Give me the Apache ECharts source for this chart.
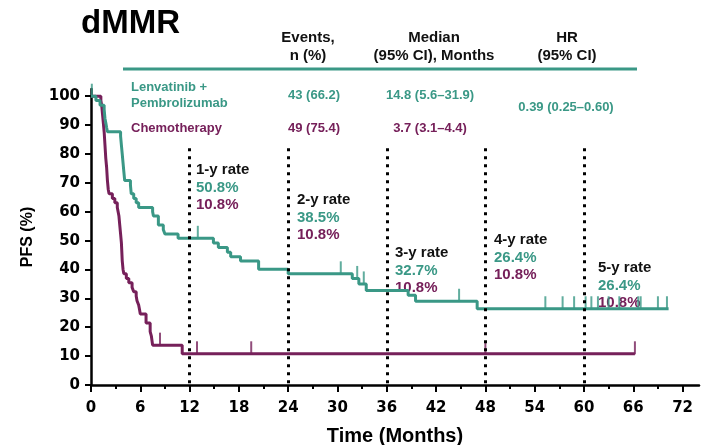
<!DOCTYPE html>
<html>
<head>
<meta charset="utf-8">
<script src="https://cdn.jsdelivr.net/npm/echarts@6/dist/echarts.min.js"></script>
<style>
  html, body { margin: 0; padding: 0; background: #fff; }
  #chart { width: 709px; height: 445px; }
</style>
</head>
<body>
<div id="chart"></div>
<script>
// Kaplan–Meier PFS, dMMR population
const xTickLabels = [0, 6, 12, 18, 24, 30, 36, 42, 48, 54, 60, 66, 72];
const xMinorTicks = [3, 9, 15, 21, 27, 33, 39, 45, 51, 57, 63, 69];
const yTickLabels = [0, 10, 20, 30, 40, 50, 60, 70, 80, 90, 100];

// Lenvatinib + Pembrolizumab: event times (months) and survival (%)
const lenvTimes = [0, 0.6, 1.1, 1.6, 1.7, 1.8, 1.9, 2.0, 3.6, 3.7, 3.8, 3.9, 4.0, 4.1, 4.8, 4.9, 5.2, 5.5, 5.8,
  7.5, 7.6, 8.2, 8.8, 9.0, 10.6, 14.9, 15.5, 16.6, 17.0, 18.2, 20.4, 24.0, 31.8, 32.6, 33.5, 38.6, 39.5, 47.0, 70.3];
const lenvSurv = [100, 98.5, 96.9, 95.4, 92.3, 90.8, 89.2, 87.7, 86.2, 83.1, 80.0, 76.9, 73.8, 70.8, 69.2, 66.2, 64.6, 63.1, 61.5,
  60.0, 58.5, 55.4, 53.8, 52.3, 50.8, 49.2, 47.6, 46.0, 44.4, 42.9, 40.1, 38.5, 36.9, 35.0, 32.7, 31.1, 29.0, 26.4, 26.4];
const lenvCensors = [0.1, 13.0, 30.4, 32.4, 33.2, 44.8, 55.3, 57.4, 58.8, 60.2, 60.9, 61.7, 63.0, 64.3, 66.6, 66.9, 69.0, 70.1];

// Chemotherapy: event times (months) and survival (%)
const chemoTimes = [0, 1.2, 1.3, 1.4, 1.5, 1.6, 1.7, 1.8, 1.9, 2.0, 2.1, 2.2, 2.6, 2.9, 3.2, 3.3, 3.4, 3.5, 3.6, 3.7, 3.75,
  3.8, 3.9, 4.0, 4.3, 4.6, 5.0, 5.2, 5.5, 5.6, 5.8, 5.9, 6.0, 6.7, 7.2, 7.35, 7.5, 11.1, 66.2];
const chemoSurv = [100, 98.5, 96.9, 93.8, 90.8, 87.7, 83.1, 78.5, 75.4, 70.8, 67.7, 66.2, 64.6, 63.1, 61.5, 60.0, 58.5, 55.4, 52.3, 49.2, 46.2,
  43.1, 40.0, 38.5, 36.9, 35.4, 33.8, 32.3, 30.8, 29.2, 27.7, 26.2, 24.6, 21.5, 18.5, 16.9, 13.8, 10.8, 10.8];
const chemoCensors = [8.4, 12.9, 19.5, 48.0, 66.2];

// Landmark rates
const rateYears = [1, 2, 3, 4, 5];
const lenvRates = [50.8, 38.5, 32.7, 26.4, 26.4];
const chemoRates = [10.8, 10.8, 10.8, 10.8, 10.8];

// Summary table
const tableHeaders = [['Events,', 'n (%)'], ['Median', '(95% CI), Months'], ['HR', '(95% CI)']];
const armNames = [['Lenvatinib +', 'Pembrolizumab'], ['Chemotherapy']];
const eventsCol = ['43 (66.2)', '49 (75.4)'];
const medianCol = ['14.8 (5.6–31.9)', '3.7 (3.1–4.4)'];
const hrText = '0.39 (0.25–0.60)';

const TEAL = '#3a9886';
const PURPLE = '#76205a';
const FONT = '"Liberation Sans", Arial, sans-serif';
const TICK_FONT = '"DejaVu Sans", sans-serif';

function pairs(t, s) { return t.map((v, i) => [v, s[i]]); }
function survAt(t, s, x) {
  let v = s[0];
  for (let i = 0; i < t.length; i++) { if (t[i] <= x) v = s[i]; }
  return v;
}

const chart = echarts.init(document.getElementById('chart'));

const gridRect = { left: 91, right: 10, top: 89, bottom: 60, outerBoundsMode: 'none' };

// Table + annotation text
const graphics = [];
graphics.push({ type: 'text', left: 81, top: 7, style: { text: 'dMMR', font: 'bold 33px ' + FONT, fill: '#000' } });
const headerCenters = [308, 434, 567];
tableHeaders.forEach((h, i) => {
  h.forEach((line, j) => {
    graphics.push({ type: 'text', x: headerCenters[i], y: 38 + j * 18,
      style: { text: line, font: 'bold 15px ' + FONT, fill: '#111', align: 'center', verticalAlign: 'middle' } });
  });
});
graphics.push({ type: 'line', shape: { x1: 123, y1: 69, x2: 637, y2: 69 }, style: { stroke: TEAL, lineWidth: 3 } });
const armColors = [TEAL, PURPLE];
const armRowY = [95, 128];
armNames.forEach((name, i) => {
  name.forEach((line, j) => {
    const y = name.length > 1 ? armRowY[i] - 8 + j * 16 : armRowY[i];
    graphics.push({ type: 'text', x: 131, y: y,
      style: { text: line, font: 'bold 13px ' + FONT, fill: armColors[i], verticalAlign: 'middle' } });
  });
  graphics.push({ type: 'text', x: 288, y: armRowY[i],
    style: { text: eventsCol[i], font: 'bold 13px ' + FONT, fill: armColors[i], verticalAlign: 'middle' } });
  graphics.push({ type: 'text', x: 430, y: armRowY[i],
    style: { text: medianCol[i], font: 'bold 13px ' + FONT, fill: armColors[i], align: 'center', verticalAlign: 'middle' } });
});
graphics.push({ type: 'text', x: 566, y: 107,
  style: { text: hrText, font: 'bold 13px ' + FONT, fill: TEAL, align: 'center', verticalAlign: 'middle' } });

const rateX = [196, 297, 395, 494, 598];
const rateY = [170, 200, 253, 240, 268];
rateYears.forEach((yr, i) => {
  const lines = [[yr + '-y rate', '#111'], [lenvRates[i].toFixed(1) + '%', TEAL], [chemoRates[i].toFixed(1) + '%', PURPLE]];
  lines.forEach((ln, j) => {
    graphics.push({ type: 'text', x: rateX[i], y: rateY[i] + j * 17.5,
      style: { text: ln[0], font: 'bold 15px ' + FONT, fill: ln[1], verticalAlign: 'middle' } });
  });
});

const censorSymbol = { symbol: 'rect', symbolSize: [2, 13], symbolOffset: [0, -6] };

chart.setOption({
  animation: false,
  backgroundColor: '#fff',
  grid: gridRect,
  graphic: graphics,
  xAxis: [{
    type: 'value', min: 0, max: 74, interval: 6,
    name: 'Time (Months)', nameLocation: 'middle', nameGap: 41,
    nameTextStyle: { fontFamily: FONT, fontWeight: 'bold', fontSize: 20, color: '#000' },
    axisLine: { show: true, onZero: false, lineStyle: { color: '#000', width: 2.5 } },
    axisTick: { show: true, length: 7, customValues: xTickLabels, lineStyle: { color: '#000', width: 2 } },
    axisLabel: { customValues: xTickLabels, fontFamily: TICK_FONT, fontWeight: 'bold', fontSize: 15, color: '#000', margin: 16 },
    splitLine: { show: false }
  }, {
    type: 'value', min: 0, max: 74, position: 'bottom',
    axisLine: { show: false },
    axisTick: { show: true, length: 4, customValues: xMinorTicks, lineStyle: { color: '#000', width: 2 } },
    axisLabel: { show: false },
    splitLine: { show: false }
  }],
  yAxis: {
    type: 'value', min: 0, max: 102.5,
    name: 'PFS (%)', nameLocation: 'middle', nameGap: 55, nameRotate: 90,
    nameTextStyle: { fontFamily: FONT, fontWeight: 'bold', fontSize: 16, color: '#000' },
    axisLine: { show: true, lineStyle: { color: '#000', width: 2.5 } },
    axisTick: { show: true, length: 6, customValues: yTickLabels, lineStyle: { color: '#000', width: 2 } },
    axisLabel: { customValues: yTickLabels, fontFamily: TICK_FONT, fontWeight: 'bold', fontSize: 15, color: '#000', margin: 11 },
    splitLine: { show: false }
  },
  series: [
    {
      name: 'Chemotherapy', type: 'line', step: 'end', showSymbol: false,
      data: pairs(chemoTimes, chemoSurv),
      lineStyle: { color: PURPLE, width: 3 }, itemStyle: { color: PURPLE }, z: 3,
      markLine: {
        silent: true, symbol: 'none', label: { show: false },
        lineStyle: { color: '#000', type: [3, 5], width: 3 },
        data: rateYears.map(yr => [{ coord: [yr * 12, 82] }, { coord: [yr * 12, 0] }])
      }
    },
    {
      name: 'Lenvatinib + Pembrolizumab', type: 'line', step: 'end', showSymbol: false,
      data: pairs(lenvTimes, lenvSurv),
      lineStyle: { color: TEAL, width: 3 }, itemStyle: { color: TEAL }, z: 4
    },
    Object.assign({
      type: 'scatter', data: chemoCensors.map(t => [t, survAt(chemoTimes, chemoSurv, t)]),
      itemStyle: { color: PURPLE }, z: 3
    }, censorSymbol),
    Object.assign({
      type: 'scatter', data: lenvCensors.map(t => [t, survAt(lenvTimes, lenvSurv, t)]),
      itemStyle: { color: TEAL }, z: 4
    }, censorSymbol)
  ]
});
</script>
</body>
</html>
